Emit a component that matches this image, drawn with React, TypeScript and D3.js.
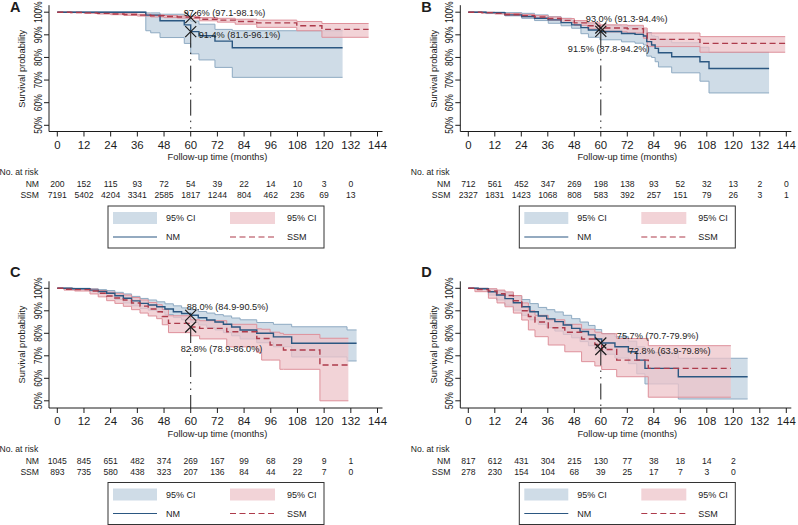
import React from "react";
import * as d3 from "d3";

// each row: month, survival %, lower 95% CI, upper 95% CI
type Row = [number, number, number, number];

const MONTH_TICKS = [0, 12, 24, 36, 48, 60, 72, 84, 96, 108, 120, 132, 144];
const PCT_TICKS = [50, 60, 70, 80, 90, 100];
const GROUPS = ["NM", "SSM"];

// ---------- panel A
const A_NM: Row[] = [
  [0, 100, 100, 100], [39.8, 98.7, 91.8, 99.7], [42, 98.7, 90.9, 99.7], [46.2, 96.2, 88.8, 99.1],
  [57.1, 94.4, 86.2, 97.6], [60, 91.4, 81.6, 96.1], [63.7, 89.6, 78.9, 94.7], [70.9, 87.2, 75.6, 92.4],
  [78.7, 84.3, 71.2, 91.8], [128.3, 84.3, 71.2, 91.8],
];
const A_SSM: Row[] = [
  [0, 100, 100, 100], [6, 99.9, 99.8, 100], [12, 99.7, 99.5, 99.9], [18, 99.5, 99.2, 99.7],
  [24, 99.2, 98.9, 99.5], [30, 99.0, 98.6, 99.3], [36, 98.7, 98.3, 99.1], [42, 98.4, 97.9, 98.8],
  [48, 98.1, 97.6, 98.5], [54, 97.9, 97.4, 98.3], [60, 97.6, 97.1, 98.1], [64, 96.9, 96.2, 97.6],
  [72, 96.5, 95.6, 97.3], [80, 95.9, 94.7, 96.9], [89.7, 95.3, 93.3, 96.5], [107.7, 94.0, 91.8, 95.9],
  [119, 92.4, 88.9, 95.0], [140, 92.4, 88.9, 95.0],
];
const A_RISK_NM = [200, 152, 115, 93, 72, 54, 39, 22, 14, 10, 3, 0];
const A_RISK_SSM = [7191, 5402, 4204, 3341, 2585, 1817, 1244, 804, 462, 236, 69, 13];
const A_AT60 = [97.6, 91.4];
const A_AT60_TEXT = ["97.6% (97.1-98.1%)", "91.4% (81.6-96.1%)"];

// ---------- panel B
const B_NM: Row[] = [
  [0, 100, 100, 100], [8, 99.8, 99.4, 100], [16.6, 98.8, 98.4, 99.8], [24.2, 98.1, 97.3, 99.5],
  [30, 97.3, 96.3, 98.8], [36.2, 96.6, 95.1, 98.0], [42, 95.4, 94.0, 97.3], [46.8, 94.4, 92.9, 96.3],
  [51, 93.2, 90.5, 95.6], [54.4, 92.1, 88.9, 94.8], [59.6, 91.5, 87.8, 94.2], [69.4, 90.6, 86.9, 93.8],
  [75.5, 90.2, 86.3, 93.5], [79.3, 89.5, 85.5, 92.3], [80.8, 87.0, 80.6, 91.0], [83.0, 85.5, 80.0, 89.5],
  [84.6, 84.0, 78.1, 89.2], [86.1, 82.1, 75.8, 88.0], [92.1, 80.3, 73.2, 86.5], [104.9, 78.1, 69.5, 84.5],
  [109, 75.1, 64.3, 82.3], [136.2, 75.1, 64.3, 82.3],
];
const B_SSM: Row[] = [
  [0, 100, 100, 100], [6, 99.8, 99.6, 100], [12, 99.5, 99.2, 99.8], [16.6, 99.0, 98.6, 99.4],
  [24, 98.5, 98.0, 99.0], [30, 97.9, 97.3, 98.5], [36, 97.2, 96.5, 97.9], [42, 96.4, 95.5, 97.2],
  [48, 95.3, 94.2, 96.3], [54, 94.0, 92.6, 95.3], [59.6, 93.0, 91.3, 94.4], [72, 92.7, 90.8, 94.2],
  [79.3, 91.0, 88.5, 93.0], [81, 88.0, 84.8, 90.8], [104.9, 86.2, 82.3, 89.2], [143.5, 86.2, 82.3, 89.2],
];
const B_RISK_NM = [712, 561, 452, 347, 269, 198, 138, 93, 52, 32, 13, 2, 0];
const B_RISK_SSM = [2327, 1831, 1423, 1068, 808, 583, 392, 257, 151, 79, 26, 3, 1];
const B_AT60 = [93.0, 91.5];
const B_AT60_TEXT = ["93.0% (91.3-94.4%)", "91.5% (87.8-94.2%)"];

// ---------- panel C
const C_NM: Row[] = [
  [0, 100, 100, 100], [6.6, 99.8, 99.5, 100], [14.7, 99.2, 98.5, 99.8], [18.4, 98.6, 97.6, 99.4],
  [22.2, 97.8, 96.5, 99.0], [25.9, 96.7, 95.0, 98.2], [29.7, 95.6, 93.5, 97.5], [33.4, 94.4, 92.2, 96.4],
  [37.2, 93.3, 91.0, 95.5], [40.9, 92.6, 90.3, 94.8], [44.7, 91.8, 89.5, 94.0], [48.4, 90.8, 88.3, 93.1],
  [52.2, 89.6, 87.0, 92.2], [55.9, 88.8, 86.0, 91.3], [60, 88.0, 84.9, 90.5], [63.4, 86.9, 83.7, 89.7],
  [67.2, 85.9, 82.6, 89.0], [70.9, 85.0, 81.5, 88.3], [74.7, 84.0, 80.3, 87.7], [78.4, 82.8, 78.9, 86.8],
  [82.2, 81.5, 77.5, 86.0], [89.7, 80.0, 75.8, 84.8], [97.2, 78.4, 74.0, 84.0], [105.4, 75.6, 69.5, 82.9],
  [130.3, 75.6, 67.7, 81.5], [134.6, 75.6, 67.7, 81.5],
];
const C_SSM: Row[] = [
  [0, 100, 100, 100], [3, 99.6, 99.2, 100], [7.8, 99.4, 98.8, 99.9], [14.7, 98.8, 97.5, 99.6],
  [18.4, 97.8, 96.2, 99.0], [22.2, 96.6, 94.5, 98.3], [25.9, 95.7, 93.3, 97.6], [29.7, 94.8, 92.0, 97.0],
  [33.4, 93.5, 90.5, 95.9], [37.2, 92.1, 89.0, 94.8], [40.9, 90.8, 87.7, 93.7], [44.7, 89.6, 86.5, 92.7],
  [47.2, 87.5, 83.8, 90.6], [50, 84.4, 80.3, 87.8], [60, 82.8, 78.9, 86.0], [64, 82.2, 77.5, 85.6],
  [76.2, 80.7, 74.0, 84.0], [89.7, 77.7, 71.5, 82.0], [91.9, 77.7, 68.1, 81.8], [95.7, 74.8, 68.1, 80.5],
  [100.1, 74.8, 64.0, 80.0], [101.7, 72.6, 64.0, 79.5], [118.1, 65.9, 50, 77.8], [130.9, 65.9, 50, 77.8],
];
const C_RISK_NM = [1045, 845, 651, 482, 374, 269, 167, 99, 68, 29, 9, 1];
const C_RISK_SSM = [893, 735, 580, 438, 323, 207, 136, 84, 44, 22, 7, 0];
const C_AT60 = [88.0, 82.8];
const C_AT60_TEXT = ["88.0% (84.9-90.5%)", "82.8% (78.9-86.0%)"];

// ---------- panel D
const D_NM: Row[] = [
  [0, 100, 100, 100], [4.5, 99.8, 99.4, 100], [9.1, 98.5, 97.0, 99.6], [12.8, 97.0, 94.8, 98.8],
  [16.6, 95.4, 92.5, 98.0], [20.4, 93.6, 90.3, 96.5], [24.2, 91.8, 88.0, 95.0], [27.9, 89.6, 86.0, 93.2],
  [31.7, 87.7, 84.0, 91.5], [35.5, 86.4, 82.5, 90.5], [39.2, 85.2, 81.0, 89.5], [43, 83.7, 79.5, 88.0],
  [46.8, 82.2, 78.0, 86.5], [50.6, 80.8, 76.3, 85.0], [54.4, 79.3, 74.5, 83.5], [57.4, 77.5, 72.6, 81.7],
  [60.4, 75.7, 70.7, 79.9], [66.4, 74.0, 69.0, 78.5], [72.5, 71.8, 66.5, 76.5], [76.3, 68.1, 62.0, 74.0],
  [80, 64.4, 57.5, 71.5], [95.1, 60.7, 50.8, 68.9], [126.5, 60.7, 50.8, 68.9],
];
const D_SSM: Row[] = [
  [0, 100, 100, 100], [3, 99.5, 98.5, 100], [9.1, 98.8, 95.6, 99.8], [13, 97.6, 93.5, 99.2],
  [16.6, 96.8, 91.8, 98.4], [20.4, 94.5, 89.0, 96.8], [24.2, 90.0, 85.9, 93.5], [27.2, 87.5, 81.5, 90.0],
  [30.2, 85.0, 78.5, 88.0], [36.2, 82.5, 74.8, 86.0], [43.7, 80.5, 71.8, 84.0], [51.3, 77.5, 67.4, 81.8],
  [57.3, 75.0, 65.5, 80.5], [60.4, 72.8, 63.9, 79.8], [67.2, 68.1, 60.7, 77.7], [81.5, 64.4, 51.6, 74.5],
  [118.9, 64.4, 51.6, 74.5],
];
const D_RISK_NM = [817, 612, 431, 304, 215, 130, 77, 38, 18, 14, 2];
const D_RISK_SSM = [278, 230, 154, 104, 68, 39, 25, 17, 7, 3, 0];
const D_AT60 = [75.7, 72.8];
const D_AT60_TEXT = ["75.7% (70.7-79.9%)", "72.8% (63.9-79.8%)"];

const PANELS = [
  { letter: "A", nm: A_NM, ssm: A_SSM, riskNm: A_RISK_NM, riskSsm: A_RISK_SSM, at60: A_AT60, text: A_AT60_TEXT },
  { letter: "B", nm: B_NM, ssm: B_SSM, riskNm: B_RISK_NM, riskSsm: B_RISK_SSM, at60: B_AT60, text: B_AT60_TEXT },
  { letter: "C", nm: C_NM, ssm: C_SSM, riskNm: C_RISK_NM, riskSsm: C_RISK_SSM, at60: C_AT60, text: C_AT60_TEXT },
  { letter: "D", nm: D_NM, ssm: D_SSM, riskNm: D_RISK_NM, riskSsm: D_RISK_SSM, at60: D_AT60, text: D_AT60_TEXT },
];

// where each panel sits on the page, plus label nudges (px from the markers)
const LAYOUT = [
  { ox: 0, x0: 57.3, x1: 377.5, yTop: 12.2, yBot: 125.3, axisY: 131.5, letterY: 12, off: [[-7, -1.5], [8, 6]] },
  { ox: 411.3, x0: 468.3, x1: 786.3, yTop: 12.2, yBot: 125.3, axisY: 131.5, letterY: 12, off: [[-15, -5.7], [-33, 21]] },
  { ox: 0, x0: 57.3, x1: 377.5, yTop: 288.3, yBot: 400.8, axisY: 408, letterY: 277, off: [[-4, -5.3], [-10, 24.6]] },
  { ox: 411.3, x0: 468.3, x1: 786.3, yTop: 288.3, yBot: 400.8, axisY: 408, letterY: 277, off: [[16, -3.6], [28, 4.8]] },
];

const FONT = "'Liberation Sans', Arial, Helvetica, sans-serif";
const INK = "#1c1c1c";
const NM_LINE = "#2b5781";
const NM_FILL = "#cfdce7";
const NM_EDGE = "#8eaac2";
const SSM_LINE = "#ad3b4b";
const SSM_FILL = "#eec4ca";
const SSM_EDGE = "#de919b";

function Panel({ p, L }: { p: (typeof PANELS)[number]; L: (typeof LAYOUT)[number] }) {
  const x = d3.scaleLinear().domain([0, 144]).range([L.x0, L.x1]);
  const y = d3.scaleLinear().domain([50, 100]).range([L.yBot, L.yTop]);
  const ax = L.ox + 49;

  const step = (k: number) =>
    d3.line<Row>().x((d) => x(d[0])).y((d) => y(d[k])).curve(d3.curveStepAfter);
  const band = d3
    .area<Row>()
    .x((d) => x(d[0]))
    .y0((d) => y(d[2]))
    .y1((d) => y(d[3]))
    .curve(d3.curveStepAfter);

  const x60 = x(60);
  const yLow = y(Math.min(...p.at60));
  const cross = (cx: number, cy: number, r = 5.5) =>
    `M${cx - r},${cy - r}L${cx + r},${cy + r}M${cx - r},${cy + r}L${cx + r},${cy - r}`;
  const legY1 = L.axisY + 86.5;
  const legY2 = L.axisY + 105.5;

  return (
    <g fontFamily={FONT}>
      <text x={L.ox + 10} y={L.letterY} fontSize={14.5} fontWeight="bold" fill={INK}>
        {p.letter}
      </text>

      {/* confidence bands */}
      <path d={band(p.nm) || ""} fill={NM_FILL} stroke="none" />
      <path d={step(2)(p.nm) || ""} fill="none" stroke={NM_EDGE} strokeWidth={1} />
      <path d={step(3)(p.nm) || ""} fill="none" stroke={NM_EDGE} strokeWidth={1} />
      <path d={band(p.ssm) || ""} fill={SSM_FILL} fillOpacity={0.75} stroke="none" />
      <path d={step(2)(p.ssm) || ""} fill="none" stroke={SSM_EDGE} strokeWidth={1} />
      <path d={step(3)(p.ssm) || ""} fill="none" stroke={SSM_EDGE} strokeWidth={1} />

      {/* survival curves */}
      <path d={step(1)(p.nm) || ""} fill="none" stroke={NM_LINE} strokeWidth={1.4} />
      <path d={step(1)(p.ssm) || ""} fill="none" stroke={SSM_LINE} strokeWidth={1.4} strokeDasharray="6 3.5" />

      {/* 60-month reference */}
      <line x1={x60} x2={x60} y1={yLow} y2={L.axisY} stroke={INK} strokeWidth={1} strokeDasharray="16 5 1.5 5 1.5 5" />
      {p.at60.map((v, i) => (
        <g key={i}>
          <path d={cross(x60, y(v))} stroke={INK} strokeWidth={1.2} fill="none" />
          <text x={x60 + L.off[i][0]} y={y(v) + L.off[i][1]} fontSize={9.2} fill={INK}>
            {p.text[i]}
          </text>
        </g>
      ))}

      {/* axes */}
      <line x1={ax} x2={ax} y1={L.yTop - 7} y2={L.axisY} stroke={INK} strokeWidth={1} />
      <line x1={ax} x2={L.x1 + 5} y1={L.axisY} y2={L.axisY} stroke={INK} strokeWidth={1} />
      {PCT_TICKS.map((v) => (
        <g key={v}>
          <line x1={ax - 5} x2={ax} y1={y(v)} y2={y(v)} stroke={INK} strokeWidth={1} />
          <text
            transform={`translate(${L.ox + 38},${y(v)}) rotate(-90) scale(0.8,1)`}
            textAnchor="middle"
            dy="0.35em"
            fontSize={10.6}
            fill={INK}
          >
            {v}%
          </text>
        </g>
      ))}
      <text
        transform={`translate(${L.ox + 22},${(L.yTop + L.yBot) / 2}) rotate(-90)`}
        textAnchor="middle"
        dy="0.35em"
        fontSize={9.3}
        fill={INK}
      >
        Survival probability
      </text>
      {MONTH_TICKS.map((t) => (
        <g key={t}>
          <line x1={x(t)} x2={x(t)} y1={L.axisY} y2={L.axisY + 5} stroke={INK} strokeWidth={1} />
          <text x={x(t)} y={L.axisY + 13.5} dy="0.35em" textAnchor="middle" fontSize={11.4} fill={INK}>
            {t}
          </text>
        </g>
      ))}
      <text x={(L.x0 + L.x1) / 2} y={L.axisY + 25.5} dy="0.35em" textAnchor="middle" fontSize={9.3} fill={INK}>
        Follow-up time (months)
      </text>

      {/* number at risk */}
      <text x={L.ox - 0.5} y={L.axisY + 40.5} dy="0.35em" fontSize={8.6} fill={INK}>
        No. at risk
      </text>
      {[p.riskNm, p.riskSsm].map((row, r) => (
        <g key={r} fill={INK}>
          <text x={L.ox + 39} y={L.axisY + 52.5 + r * 11} dy="0.35em" textAnchor="end" fontSize={8.6}>
            {GROUPS[r]}
          </text>
          {row.map((n, i) => (
            <text key={i} x={x(MONTH_TICKS[i])} y={L.axisY + 52.5 + r * 11} dy="0.35em" textAnchor="middle" fontSize={8.6}>
              {n}
            </text>
          ))}
        </g>
      ))}

      {/* legend */}
      <rect x={L.ox + 108} y={L.axisY + 74.5} width={216} height={42} fill="white" stroke="#333" strokeWidth={1} />
      <rect x={L.ox + 113} y={legY1 - 6} width={44} height={12} fill={NM_FILL} />
      <rect x={L.ox + 230} y={legY1 - 6} width={45} height={12} fill={SSM_FILL} fillOpacity={0.75} />
      <path d={`M${L.ox + 113},${legY2}H${L.ox + 157}`} stroke={NM_LINE} strokeWidth={1.2} fill="none" />
      <path d={`M${L.ox + 230},${legY2}H${L.ox + 275}`} stroke={SSM_LINE} strokeWidth={1.2} strokeDasharray="6 3.5" fill="none" />
      {["95% CI", "95% CI"].map((s, i) => (
        <text key={i} x={L.ox + (i ? 287 : 166)} y={legY1} dy="0.35em" fontSize={9} fill={INK}>
          {s}
        </text>
      ))}
      {GROUPS.map((g, i) => (
        <text key={g} x={L.ox + (i ? 287 : 166)} y={legY2} dy="0.35em" fontSize={9} fill={INK}>
          {g}
        </text>
      ))}
    </g>
  );
}

export default function App() {
  return (
    <svg
      width={798}
      height={525}
      style={{ position: "absolute", left: 0, top: 0, background: "white" }}
    >
      {PANELS.map((p, i) => (
        <Panel key={p.letter} p={p} L={LAYOUT[i]} />
      ))}
    </svg>
  );
}
